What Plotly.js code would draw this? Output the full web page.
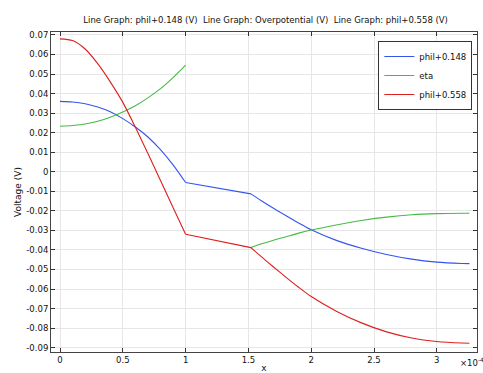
<!DOCTYPE html>
<html>
<head>
<meta charset="utf-8">
<script src="https://cdn.plot.ly/plotly-3.0.1.min.js"></script>
<style>html,body{margin:0;padding:0;background:#fff;}#chart{width:483px;height:373px;}</style>
</head>
<body>
<div id="chart"></div>
<script>
// x in units of 1e-4 (multiplier shown on the axis)
const xSeg1 = [0,0.1,0.2,0.3,0.4,0.5,0.6,0.7,0.8,0.9,1.0];
const xSeg2 = [1.0,1.52];
const xSeg3 = [1.52,1.6,1.7,1.8,1.9,2.0,2.2,2.4,2.6,2.8,3.0,3.2,3.26];

const phil148Seg1 = [0.036,0.0357,0.0348,0.0331,0.0307,0.0272,0.0229,0.0178,0.0113,0.0035,-0.0055];
const phil148Seg2 = [-0.0055,-0.0113];
const phil148Seg3 = [-0.0113,-0.0147,-0.0187,-0.0225,-0.0262,-0.0297,-0.0351,-0.0391,-0.0423,-0.0447,-0.0462,-0.0469,-0.047];

const etaSeg1 = [0.0233,0.0237,0.0244,0.0258,0.0279,0.0306,0.0338,0.0378,0.0425,0.0482,0.0546];
const etaSeg3 = [-0.0388,-0.037,-0.035,-0.0332,-0.0314,-0.0298,-0.0272,-0.0249,-0.0232,-0.022,-0.0214,-0.0212,-0.0212];

const phil558Seg1 = [0.068,0.0671,0.0628,0.0553,0.046,0.0355,0.0228,0.0093,-0.0045,-0.0183,-0.032];
const phil558Seg2 = [-0.032,-0.0388];
const phil558Seg3 = [-0.0388,-0.0433,-0.0487,-0.054,-0.0591,-0.0638,-0.0713,-0.0773,-0.0819,-0.085,-0.0868,-0.0876,-0.0877];

const seriesNames = ['phil+0.148','eta','phil+0.558'];
const seriesColors = ['#3355ee','#44bb44','#dd1f1f'];
const xTickVals = [0,0.5,1,1.5,2,2.5,3];
const xTickText = ['0','0.5','1','1.5','2','2.5','3'];
const yTickVals = [0.07,0.06,0.05,0.04,0.03,0.02,0.01,0,-0.01,-0.02,-0.03,-0.04,-0.05,-0.06,-0.07,-0.08,-0.09];
const yTickText = ['0.07','0.06','0.05','0.04','0.03','0.02','0.01','0','-0.01','-0.02','-0.03','-0.04','-0.05','-0.06','-0.07','-0.08','-0.09'];

const FONT = 'DejaVu Sans, sans-serif';
function seg(x, y, i, show) {
  return {x:x, y:y, name:seriesNames[i], legendgroup:seriesNames[i], showlegend:show, mode:'lines',
          line:{color:seriesColors[i], width:1.1, shape:'spline', smoothing:0.8}};
}
const traces = [
  seg(xSeg1, phil148Seg1, 0, true), seg(xSeg2, phil148Seg2, 0, false), seg(xSeg3, phil148Seg3, 0, false),
  seg(xSeg1, etaSeg1, 1, true), seg(xSeg3, etaSeg3, 1, false),
  seg(xSeg1, phil558Seg1, 2, true), seg(xSeg2, phil558Seg2, 2, false), seg(xSeg3, phil558Seg3, 2, false)
];
const axisCommon = {
  showline:true, linecolor:'#444', linewidth:1, mirror:'ticks',
  ticks:'inside', ticklen:4, tickcolor:'#333', tickwidth:1,
  showgrid:true, gridcolor:'#e6e6e6', gridwidth:1, zeroline:false,
  tickfont:{family:FONT, size:8.5, color:'#111'}
};
const layout = {
  width:483, height:373,
  margin:{l:51, r:6, t:32, b:21},
  paper_bgcolor:'#fff', plot_bgcolor:'#fff',
  font:{family:FONT, size:9, color:'#111'},
  title:{text:'Line Graph: phil+0.148 (V)  Line Graph: Overpotential (V)  Line Graph: phil+0.558 (V)',
         font:{family:FONT, size:8.5, color:'#111'}, x:0.55, xanchor:'center', y:0.946, yanchor:'middle'},
  xaxis:Object.assign({}, axisCommon, {range:[-0.0717,3.32], tickmode:'array', tickvals:xTickVals, ticktext:xTickText,
         title:{text:'x', font:{family:FONT, size:9}, standoff:2}}),
  yaxis:Object.assign({}, axisCommon, {range:[-0.0922,0.0715], tickmode:'array', tickvals:yTickVals, ticktext:yTickText,
         title:{text:'Voltage (V)', font:{family:FONT, size:9}, standoff:3}}),
  showlegend:true,
  legend:{x:0.989, xanchor:'right', y:0.972, yanchor:'top', bgcolor:'#fff', bordercolor:'#333', borderwidth:1,
          font:{family:FONT, size:8.5, color:'#111'}, tracegroupgap:0, itemwidth:30, traceorder:'normal'},
  annotations:[{xref:'paper', yref:'paper', x:0.955, y:0, xanchor:'left', yanchor:'top', yshift:-2,
                text:'×10<sup>-4</sup>', showarrow:false, font:{family:FONT, size:8.5, color:'#111'}}]
};
Plotly.newPlot('chart', traces, layout, {displayModeBar:false, staticPlot:true});
</script>
</body>
</html>
